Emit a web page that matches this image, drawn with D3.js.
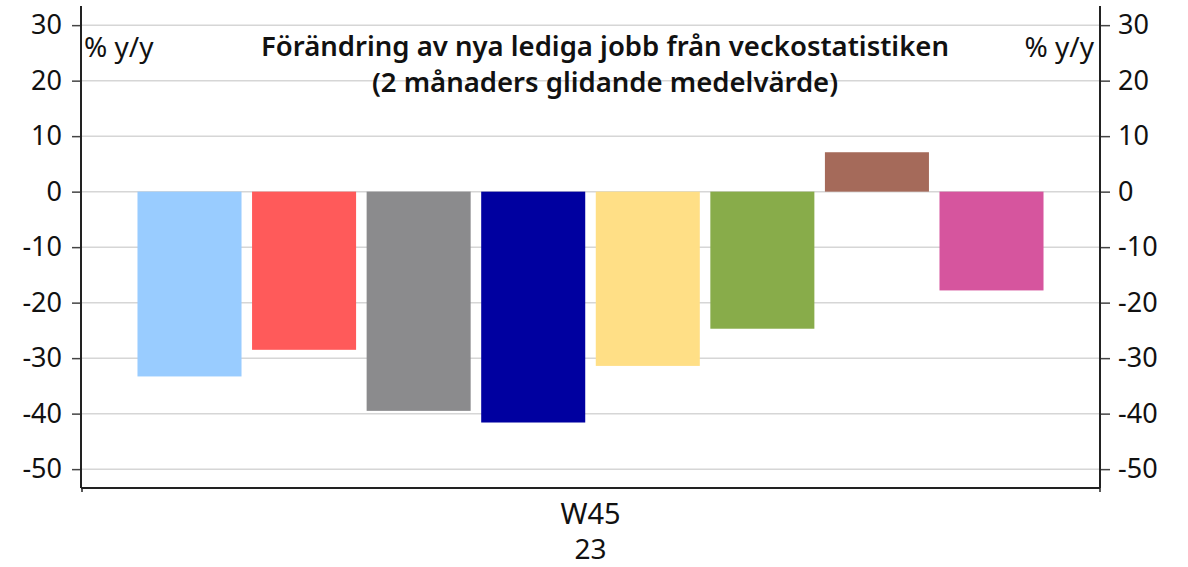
<!DOCTYPE html>
<html>
<head>
<meta charset="utf-8">
<script src="https://cdn.jsdelivr.net/npm/d3@7"></script>
<style>
  body { margin: 0; background: #fff; }
  text { font-family: "Noto Sans", sans-serif; fill: #111; }
</style>
</head>
<body>
<svg width="1188" height="567"></svg>
<script>
var series = ["s1", "s2", "s3", "s4", "s5", "s6", "s7", "s8"];
var values = [-33.3, -28.5, -39.5, -41.6, -31.4, -24.7, 7.1, -17.8];
var colors = ["#99ccff", "#ff5a5a", "#8b8b8d", "#0000a0", "#ffdf86", "#88ac4a", "#a56a5a", "#d6559e"];
var yTicks = [30, 20, 10, 0, -10, -20, -30, -40, -50];
var xLabel = ["W45", "23"];
var titleLines = ["Förändring av nya lediga jobb från veckostatistiken", "(2 månaders glidande medelvärde)"];

var svg = d3.select("svg");
var plotLeft = 81, plotRight = 1100, plotTop = 6, plotBottom = 488;

var y = d3.scaleLinear()
	.domain([-53.4, 33.45])
	.range([plotBottom, plotTop]);

var x = d3.scaleBand()
	.domain(series)
	.range([plotLeft, plotRight])
	.paddingInner(0.092)
	.paddingOuter(0.493);

// grid
svg.append("g").selectAll("line")
	.data(yTicks).enter()
	.append("line")
	.attr("x1", plotLeft).attr("x2", plotRight)
	.attr("y1", function(d) { return y(d); })
	.attr("y2", function(d) { return y(d); })
	.attr("stroke", "#d6d6d6")
	.attr("stroke-width", 1.5);

// bars
svg.append("g").selectAll("rect")
	.data(values).enter()
	.append("rect")
	.attr("x", function(d, i) { return x(series[i]); })
	.attr("width", x.bandwidth())
	.attr("y", function(d) { return y(Math.max(0, d)); })
	.attr("height", function(d) { return Math.abs(y(d) - y(0)); })
	.attr("fill", function(d, i) { return colors[i]; });

// axes (plain hyphen for negatives, like the original)
var fmt = function(d) { return String(d); };
var yLeft = d3.axisLeft(y).tickValues(yTicks).tickFormat(fmt).tickSize(9).tickPadding(10);
var yRight = d3.axisRight(y).tickValues(yTicks).tickFormat(fmt).tickSize(10).tickPadding(8);

var gl = svg.append("g").attr("transform", "translate(" + plotLeft + ",0)").call(yLeft);
var gr = svg.append("g").attr("transform", "translate(" + plotRight + ",0)").call(yRight);

[gl, gr].forEach(function(g) {
	g.select(".domain").remove();
	g.selectAll(".tick line").attr("stroke", "#444").attr("stroke-width", 1.5);
	g.selectAll(".tick text")
		.style("font-family", "Noto Sans, sans-serif")
		.style("font-size", "27px")
		.attr("fill", "#111");
});

svg.append("line")
	.attr("x1", plotLeft).attr("x2", plotLeft)
	.attr("y1", plotTop).attr("y2", plotBottom)
	.attr("stroke", "#222").attr("stroke-width", 2);
svg.append("line")
	.attr("x1", plotRight).attr("x2", plotRight)
	.attr("y1", plotTop).attr("y2", plotBottom)
	.attr("stroke", "#222").attr("stroke-width", 2);
svg.append("line")
	.attr("x1", plotLeft).attr("x2", plotRight)
	.attr("y1", plotBottom).attr("y2", plotBottom)
	.attr("stroke", "#222").attr("stroke-width", 2);
svg.append("g").selectAll("line")
	.data([plotLeft + 1, plotRight]).enter()
	.append("line")
	.attr("x1", function(d) { return d; }).attr("x2", function(d) { return d; })
	.attr("y1", plotBottom).attr("y2", plotBottom + 4)
	.attr("stroke", "#222").attr("stroke-width", 1.5);

// x label
var cx = (x(series[0]) + x(series[series.length - 1]) + x.bandwidth()) / 2;
svg.append("text")
	.attr("x", cx).attr("y", 524)
	.attr("text-anchor", "middle")
	.style("font-size", "29px")
	.text(xLabel[0]);
svg.append("text")
	.attr("x", cx).attr("y", 559)
	.attr("text-anchor", "middle")
	.style("font-size", "28px")
	.text(xLabel[1]);

// unit labels
svg.append("text")
	.attr("x", 84).attr("y", 57)
	.style("font-size", "28px")
	.text("% y/y");
svg.append("text")
	.attr("x", 1094).attr("y", 57)
	.attr("text-anchor", "end")
	.style("font-size", "28px")
	.text("% y/y");

// title
svg.append("g").selectAll("text")
	.data(titleLines).enter()
	.append("text")
	.attr("x", 605)
	.attr("y", function(d, i) { return 56 + i * 36; })
	.attr("text-anchor", "middle")
	.style("font-size", "27.5px")
	.style("font-weight", 600)
	.text(function(d) { return d; });
</script>
</body>
</html>
